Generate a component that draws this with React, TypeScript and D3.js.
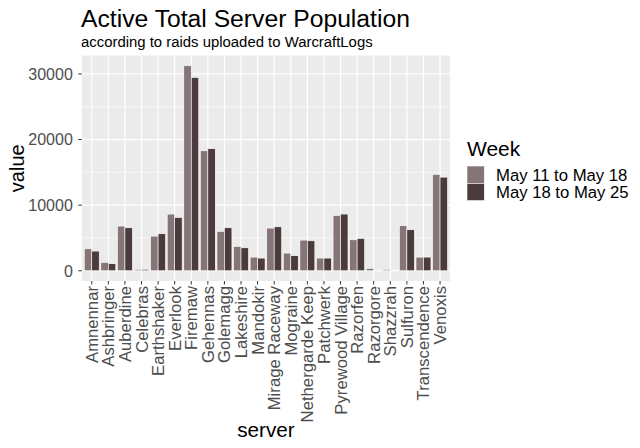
import React from "react";
import * as d3 from "d3";

const servers = [
  "Amnennar", "Ashbringer", "Auberdine", "Celebras", "Earthshaker", "Everlook",
  "Firemaw", "Gehennas", "Golemagg", "Lakeshire", "Mandokir", "Mirage Raceway",
  "Mograine", "Nethergarde Keep", "Patchwerk", "Pyrewood Village", "Razorfen",
  "Razorgore", "Shazzrah", "Sulfuron", "Transcendence", "Venoxis",
];
const weeks = ["May 11 to May 18", "May 18 to May 25"];
const week1 = [3350, 1270, 6810, 220, 5280, 8640, 31250, 18290, 6000, 3710, 2080, 6500, 2690, 4670, 1930, 8430, 4720, 360, 200, 6860, 2080, 14680];
const week2 = [3000, 1070, 6550, 220, 5640, 8130, 29470, 18600, 6550, 3500, 1930, 6700, 2290, 4570, 1930, 8640, 4930, 0, 0, 6250, 2080, 14270];
const yTicks = [0, 10000, 20000, 30000];
const colors = ["#857576", "#4b3b3c"];

export default function App() {
  const W = 640, H = 448;
  const left = 81.8, right = 450, top = 55.5, bottom = 281;
  const maxV = d3.max([...week1, ...week2]) as number;
  const pad = maxV * 0.05;
  const y = d3.scaleLinear().domain([-pad, maxV + pad]).range([bottom, top]);
  const n = servers.length;
  const unit = (right - left) / (n - 1 + 1.2);
  const x = (i: number) => left + (0.6 + i) * unit;
  const bw = unit * 0.45;
  const minor = [5000, 15000, 25000];
  const series = [week1, week2];
  const font = "'Liberation Sans', Arial, sans-serif";
  return (
    <svg width={W} height={H} style={{ position: "absolute", left: 0, top: 0, fontFamily: font }}>
      <rect x={0} y={0} width={W} height={H} fill="#fff" />
      <rect x={left} y={top} width={right - left} height={bottom - top} fill="#ebebeb" />
      {minor.map((v) => (
        <line key={"mn" + v} x1={left} x2={right} y1={y(v)} y2={y(v)} stroke="#fff" strokeWidth={0.6} />
      ))}
      {yTicks.map((v) => (
        <line key={"mj" + v} x1={left} x2={right} y1={y(v)} y2={y(v)} stroke="#fff" strokeWidth={1.2} />
      ))}
      {servers.map((s, i) => (
        <line key={"vx" + s} x1={x(i)} x2={x(i)} y1={top} y2={bottom} stroke="#fff" strokeWidth={1.2} />
      ))}
      {servers.map((s, i) =>
        series.map((vals, k) => {
          const v = vals[i];
          const x0 = x(i) - bw + k * bw;
          return (
            <rect key={s + k} x={x0} y={y(v)} width={bw} height={Math.max(0, y(0) - y(v))}
              fill={colors[k]} stroke="#fff" strokeWidth={0.6} />
          );
        })
      )}
      {yTicks.map((v) => (
        <g key={"yt" + v}>
          <line x1={left - 3.5} x2={left} y1={y(v)} y2={y(v)} stroke="#333" strokeWidth={1} />
          <text x={left - 9} y={y(v)} dy="0.36em" textAnchor="end" fontSize={16} fill="#4d4d4d">{v}</text>
        </g>
      ))}
      {servers.map((s, i) => (
        <g key={"xt" + s}>
          <line x1={x(i)} x2={x(i)} y1={bottom} y2={bottom + 3.5} stroke="#333" strokeWidth={1} />
          <text transform={`translate(${x(i)},${bottom + 5}) rotate(-90)`} dy="0.36em" textAnchor="end"
            fontSize={16.7} fill="#4d4d4d">{s}</text>
        </g>
      ))}
      <text x={(left + right) / 2} y={437} textAnchor="middle" fontSize={20.7} fill="#000">server</text>
      <text transform={`translate(24,${(top + bottom) / 2}) rotate(-90)`} textAnchor="middle" fontSize={20} fill="#000">value</text>
      <text x={81} y={27} fontSize={24.7} fill="#000">Active Total Server Population</text>
      <text x={81} y={47} fontSize={14.9} fill="#000">according to raids uploaded to WarcraftLogs</text>
      <text x={467} y={156} fontSize={21} fill="#000">Week</text>
      {weeks.map((w, k) => (
        <g key={w}>
          <rect x={467} y={166 + k * 17.3} width={17.3} height={17.3} fill={colors[k]} stroke="#fff" strokeWidth={0.6} />
          <text x={496} y={166 + k * 17.3 + 8.6} dy="0.36em" fontSize={16.7} fill="#000">{w}</text>
        </g>
      ))}
    </svg>
  );
}
